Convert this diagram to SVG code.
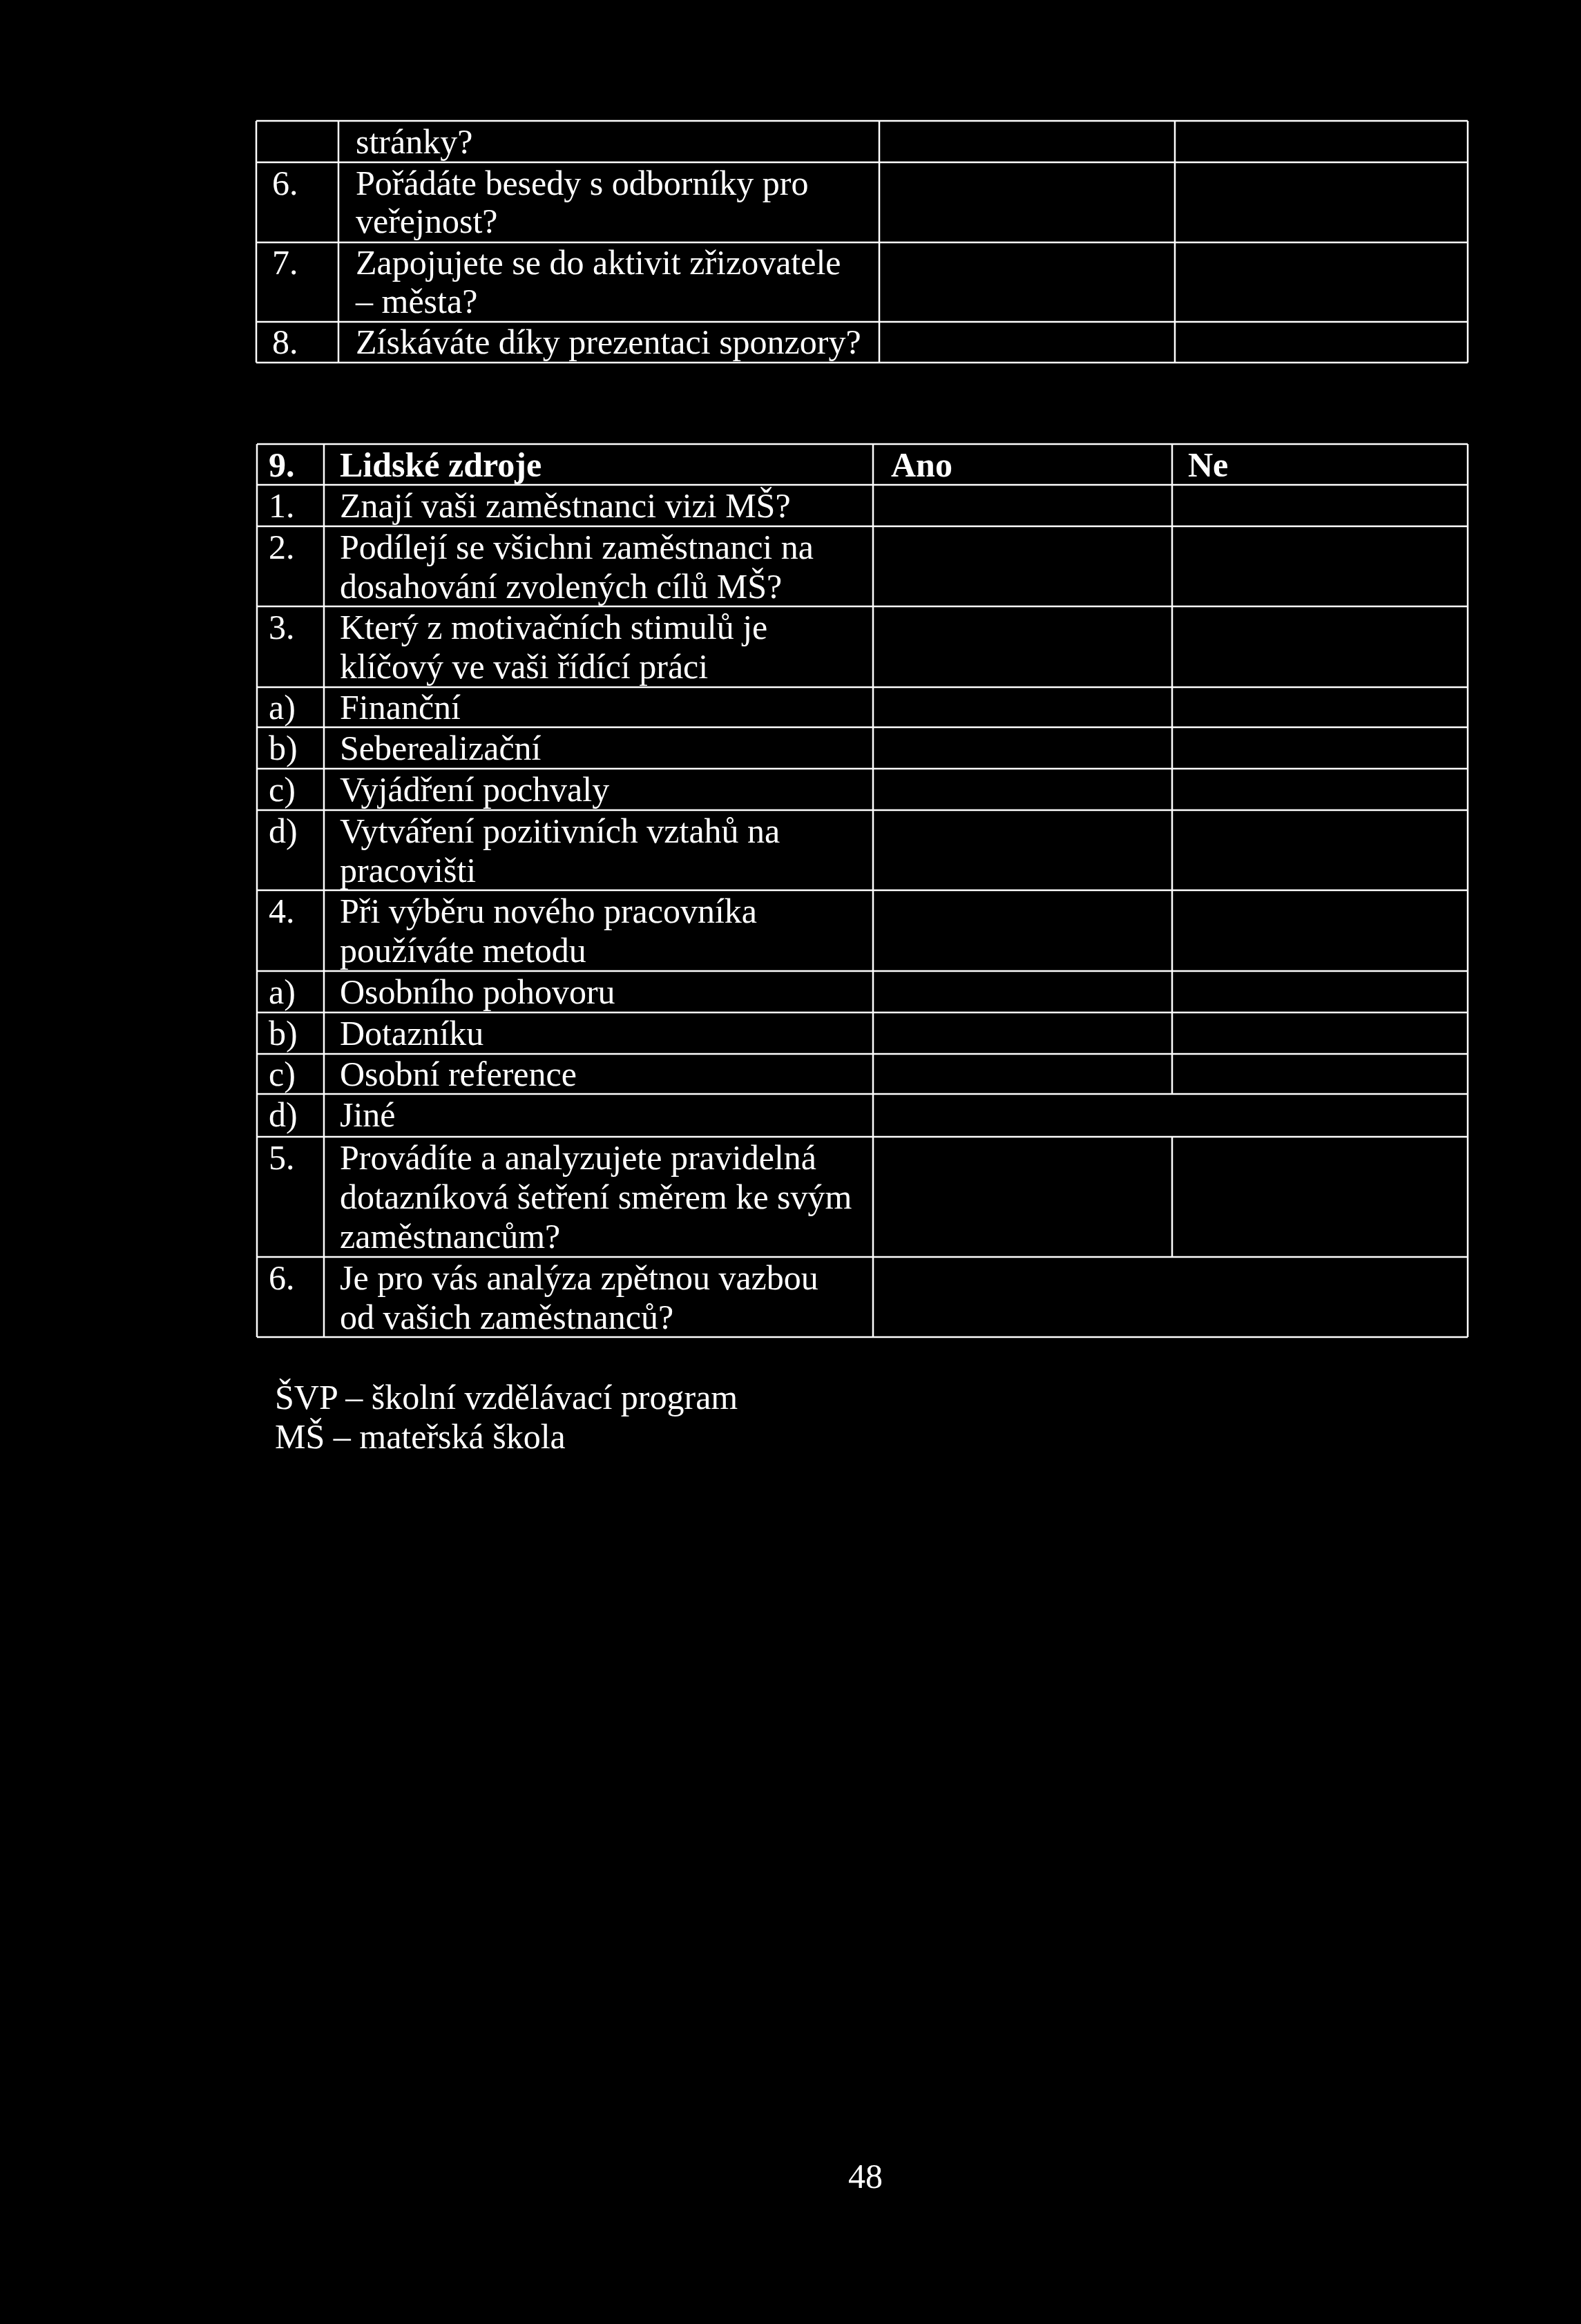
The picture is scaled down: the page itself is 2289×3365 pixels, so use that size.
<svg xmlns="http://www.w3.org/2000/svg" width="2289" height="3365" viewBox="0 0 2289 3365">
<style>
text{font-family:"Liberation Serif","Times New Roman",serif;font-size:50px;fill:#fff}
.b{font-weight:bold}
.ln{stroke:#fff;stroke-width:2.5;fill:none}
</style>
<rect width="2289" height="3365" fill="#000"/>
<g id="table1">
<g id="t1-grid" class="ln">
<path d="M371 175H2125M371 235H2125M371 351H2125M371 466H2125M371 525H2125"/>
<path d="M371 175V525M490 175V525M1273 175V525M1701 175V525M2125 175V525"/>
</g>
<g id="t1-r0"><text x="515" y="222">stránky?</text></g>
<g id="t1-r6"><text x="394" y="282">6.</text><text x="515" y="282">Pořádáte besedy s odborníky pro</text><text x="515" y="337">veřejnost?</text></g>
<g id="t1-r7"><text x="394" y="397">7.</text><text x="515" y="397">Zapojujete se do aktivit zřizovatele</text><text x="515" y="453">– města?</text></g>
<g id="t1-r8"><text x="394" y="512">8.</text><text x="515" y="512">Získáváte díky prezentaci sponzory?</text></g>
</g>
<g id="table2">
<g id="t2-grid" class="ln">
<path d="M372 643H2125M372 702H2125M372 762H2125M372 878H2125M372 995H2125M372 1053H2125M372 1113H2125M372 1173H2125M372 1289H2125M372 1406H2125M372 1466H2125M372 1526H2125M372 1584H2125M372 1646H2125M372 1820H2125M372 1936H2125"/>
<path d="M372 643V1936M469 643V1936M1264 643V1936M2125 643V1936M1697 643V1584M1697 1646V1820"/>
</g>
<g id="t2-h" class="b"><text x="389" y="690" class="b">9.</text><text x="492" y="690" class="b">Lidské zdroje</text><text x="1290" y="690" class="b">Ano</text><text x="1720" y="690" class="b">Ne</text></g>
<g id="t2-r1"><text x="389" y="749">1.</text><text x="492" y="749">Znají vaši zaměstnanci vizi MŠ?</text></g>
<g id="t2-r2"><text x="389" y="809">2.</text><text x="492" y="809">Podílejí se všichni zaměstnanci na</text><text x="492" y="866">dosahování zvolených cílů MŠ?</text></g>
<g id="t2-r3"><text x="389" y="925">3.</text><text x="492" y="925">Který z motivačních stimulů je</text><text x="492" y="982">klíčový ve vaši řídící práci</text></g>
<g id="t2-r3a"><text x="389" y="1041">a)</text><text x="492" y="1041">Finanční</text></g>
<g id="t2-r3b"><text x="389" y="1100">b)</text><text x="492" y="1100">Seberealizační</text></g>
<g id="t2-r3c"><text x="389" y="1160">c)</text><text x="492" y="1160">Vyjádření pochvaly</text></g>
<g id="t2-r3d"><text x="389" y="1220">d)</text><text x="492" y="1220">Vytváření pozitivních vztahů na</text><text x="492" y="1277">pracovišti</text></g>
<g id="t2-r4"><text x="389" y="1336">4.</text><text x="492" y="1336">Při výběru nového pracovníka</text><text x="492" y="1393">používáte metodu</text></g>
<g id="t2-r4a"><text x="389" y="1453">a)</text><text x="492" y="1453">Osobního pohovoru</text></g>
<g id="t2-r4b"><text x="389" y="1513">b)</text><text x="492" y="1513">Dotazníku</text></g>
<g id="t2-r4c"><text x="389" y="1572">c)</text><text x="492" y="1572">Osobní reference</text></g>
<g id="t2-r4d"><text x="389" y="1631">d)</text><text x="492" y="1631">Jiné</text></g>
<g id="t2-r5"><text x="389" y="1693">5.</text><text x="492" y="1693">Provádíte a analyzujete pravidelná</text><text x="492" y="1750">dotazníková šetření směrem ke svým</text><text x="492" y="1807">zaměstnancům?</text></g>
<g id="t2-r6"><text x="389" y="1867">6.</text><text x="492" y="1867">Je pro vás analýza zpětnou vazbou</text><text x="492" y="1924">od vašich zaměstnanců?</text></g>
</g>
<g id="footnotes">
<text x="398" y="2040">ŠVP – školní vzdělávací program</text>
<text x="398" y="2097">MŠ – mateřská škola</text>
</g>
<g id="page-number"><text x="1228" y="3168">48</text></g>
</svg>
